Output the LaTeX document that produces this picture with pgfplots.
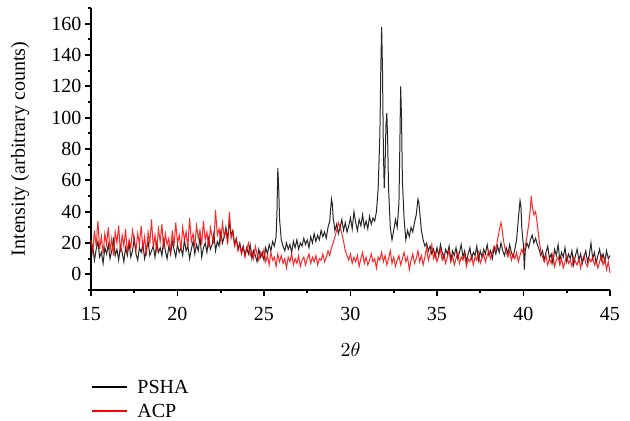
\documentclass[border=0pt]{standalone}
\usepackage{fontspec}
\setmainfont{Liberation Serif}
\usepackage{pgfplots}
\pgfplotsset{compat=1.18}

\begin{document}
\begin{tikzpicture}
\useasboundingbox (-50.05pt,-72.05pt) rectangle (296.45pt,159.5pt);
\begin{axis}[
    at={(0,0)}, anchor=south west,
    scale only axis,
    width=285.45pt, height=155.1pt,
    xmin=15, xmax=45,
    ymin=-10, ymax=170,
    axis x line*=bottom,
    axis y line*=left,
    axis line style={line width=1pt},
    tick style={line width=1pt, black},
    tick align=outside,
    major tick length=3.3pt,
    minor tick length=1.8pt,
    xtick={15,20,...,45},
    minor xtick={17.5,22.5,...,42.5},
    ytick={0,20,...,160},
    minor ytick={-10,10,...,170},
    /pgf/number format/assume math mode=true,
    tick label style={font=\fontsize{11}{13}\selectfont},
    xticklabel style={yshift=-2.5pt},
    yticklabel style={xshift=1.5pt},
    xlabel={$2\theta$},
    ylabel={Intensity (arbitrary counts)},
    label style={font=\fontsize{11}{13}\selectfont},
    xlabel style={at={(axis description cs:0.5,0)}, anchor=center, yshift=-33pt},
    ylabel style={at={(axis description cs:0,0.5)}, anchor=center, yshift=39pt},
    legend style={at={(axis description cs:0,-0.305)}, anchor=north west,
        draw=none, fill=none, inner sep=0pt, row sep=2.2pt,
        font=\fontsize{11}{13}\selectfont,
        nodes={text depth=0pt}},
    legend cell align=left,
    legend image code/.code={\draw[#1, line width=1.1pt, opacity=1] (0pt,0pt) -- (19pt,0pt); \path (22.5pt,0pt);},
    clip=false,
]
\addplot[black, line width=0.55pt, opacity=0.85] coordinates {
(15.0,12) (15.1,18) (15.2,9) (15.3,16) (15.4,21) (15.5,11) (15.6,14) (15.7,7) (15.8,17) (15.9,13)
(16.0,19) (16.1,10) (16.2,15) (16.3,22) (16.4,12) (16.5,16) (16.6,9) (16.7,18) (16.8,14) (16.9,8)
(17.0,17) (17.1,12) (17.2,20) (17.3,11) (17.4,15) (17.5,23) (17.6,13) (17.7,9) (17.8,17) (17.9,14)
(18.0,19) (18.1,10) (18.2,16) (18.3,21) (18.4,12) (18.5,15) (18.6,18) (18.7,11) (18.8,20) (18.9,14)
(19.0,17) (19.1,12) (19.2,22) (19.3,15) (19.4,10) (19.5,18) (19.6,13) (19.7,21) (19.8,16) (19.9,11)
(20.0,19) (20.1,14) (20.2,17) (20.3,12) (20.4,22) (20.5,15) (20.6,18) (20.7,10) (20.8,16) (20.9,21)
(21.0,13) (21.1,19) (21.2,15) (21.3,24) (21.4,11) (21.5,17) (21.6,20) (21.7,14) (21.8,23) (21.9,16)
(22.0,19) (22.1,26) (22.2,15) (22.3,21) (22.4,18) (22.5,27) (22.6,20) (22.7,24) (22.8,30) (22.9,22)
(23.0,34) (23.1,25) (23.2,28) (23.3,19) (23.4,23) (23.5,16) (23.6,20) (23.7,14) (23.8,18) (23.9,12)
(24.0,17) (24.1,13) (24.2,19) (24.3,10) (24.4,15) (24.5,12) (24.6,8) (24.7,16) (24.8,11) (24.9,14)
(25.0,9) (25.1,17) (25.2,13) (25.3,19) (25.4,15) (25.5,21) (25.6,18) (25.7,24) (25.75,40) (25.8,68)
(25.85,55) (25.9,35) (26.0,22) (26.1,18) (26.2,15) (26.3,20) (26.4,16) (26.5,19) (26.6,14) (26.7,21)
(26.8,17) (26.9,22) (27.0,16) (27.1,20) (27.2,18) (27.3,23) (27.4,19) (27.5,22) (27.6,17) (27.7,24)
(27.8,20) (27.9,26) (28.0,21) (28.1,25) (28.2,22) (28.3,28) (28.4,24) (28.5,27) (28.6,23) (28.7,30)
(28.8,34) (28.9,48) (28.95,45) (29.0,36) (29.1,28) (29.2,32) (29.3,26) (29.4,30) (29.5,35) (29.6,28)
(29.7,33) (29.8,27) (29.9,31) (30.0,36) (30.1,29) (30.2,40) (30.3,33) (30.4,28) (30.5,35) (30.6,31)
(30.7,38) (30.8,30) (30.9,34) (31.0,29) (31.1,37) (31.2,32) (31.3,36) (31.4,34) (31.5,40) (31.6,55)
(31.7,90) (31.75,130) (31.8,158) (31.85,130) (31.9,80) (31.95,55) (32.0,70) (32.05,95) (32.1,103) (32.15,85)
(32.2,55) (32.3,30) (32.4,22) (32.5,28) (32.6,35) (32.7,30) (32.8,45) (32.85,80) (32.9,120) (32.95,100)
(33.0,60) (33.1,35) (33.2,22) (33.3,28) (33.4,24) (33.5,30) (33.6,27) (33.7,33) (33.8,38) (33.9,48)
(33.95,46) (34.0,40) (34.1,28) (34.2,22) (34.3,18) (34.4,20) (34.5,15) (34.6,18) (34.7,13) (34.8,16) (34.9,11)
(35.0,17) (35.1,12) (35.2,19) (35.3,14) (35.4,10) (35.5,16) (35.6,13) (35.7,18) (35.8,9) (35.9,15)
(36.0,12) (36.1,17) (36.2,10) (36.3,14) (36.4,19) (36.5,11) (36.6,15) (36.7,8) (36.8,13) (36.9,17)
(37.0,10) (37.1,14) (37.2,12) (37.3,18) (37.4,9) (37.5,15) (37.6,11) (37.7,16) (37.8,13) (37.9,19)
(38.0,12) (38.1,15) (38.2,10) (38.3,17) (38.4,13) (38.5,18) (38.6,14) (38.7,20) (38.8,15) (38.9,12)
(39.0,17) (39.1,13) (39.2,19) (39.3,14) (39.4,11) (39.5,16) (39.6,22) (39.7,35) (39.8,47) (39.85,44)
(39.9,30) (40.0,18) (40.05,3) (40.1,15) (40.2,20) (40.3,17) (40.4,22) (40.5,25) (40.6,20) (40.7,23)
(40.8,19) (40.9,16) (41.0,12) (41.1,15) (41.2,9) (41.3,14) (41.4,18) (41.5,10) (41.6,13) (41.7,7)
(41.8,16) (41.9,12) (42.0,19) (42.1,9) (42.2,14) (42.3,11) (42.4,17) (42.5,8) (42.6,13) (42.7,10)
(42.8,15) (42.9,6) (43.0,12) (43.1,16) (43.2,9) (43.3,13) (43.4,7) (43.5,11) (43.6,15) (43.7,8)
(43.8,12) (43.9,20) (44.0,10) (44.1,14) (44.2,7) (44.3,12) (44.4,16) (44.5,9) (44.6,13) (44.7,8)
(44.8,15) (44.9,10) (45.0,12)
};
\addlegendentry{PSHA}
\addplot[red, line width=0.55pt, opacity=0.85] coordinates {
(15.0,22) (15.1,14) (15.2,28) (15.3,18) (15.4,34) (15.5,16) (15.6,24) (15.7,13) (15.8,26) (15.9,19)
(16.0,30) (16.1,15) (16.2,23) (16.3,12) (16.4,27) (16.5,20) (16.6,31) (16.7,14) (16.8,25) (16.9,18)
(17.0,29) (17.1,13) (17.2,22) (17.3,17) (17.4,28) (17.5,21) (17.6,15) (17.7,26) (17.8,19) (17.9,31)
(18.0,16) (18.1,24) (18.2,12) (18.3,27) (18.4,20) (18.5,35) (18.6,17) (18.7,25) (18.8,14) (18.9,29)
(19.0,21) (19.1,32) (19.2,16) (19.3,26) (19.4,19) (19.5,23) (19.6,14) (19.7,28) (19.8,18) (19.9,33)
(20.0,20) (20.1,25) (20.2,15) (20.3,30) (20.4,22) (20.5,27) (20.6,17) (20.7,36) (20.8,21) (20.9,26)
(21.0,18) (21.1,31) (21.2,23) (21.3,28) (21.4,19) (21.5,34) (21.6,22) (21.7,27) (21.8,17) (21.9,30)
(22.0,24) (22.1,20) (22.2,41) (22.3,25) (22.4,29) (22.5,21) (22.6,33) (22.7,24) (22.8,28) (22.9,19)
(23.0,40) (23.1,23) (23.2,27) (23.3,18) (23.4,22) (23.5,15) (23.6,19) (23.7,13) (23.8,17) (23.9,11)
(24.0,16) (24.1,20) (24.2,12) (24.3,15) (24.4,10) (24.5,18) (24.6,13) (24.7,9) (24.8,14) (24.9,11)
(25.0,16) (25.1,8) (25.2,12) (25.3,6) (25.4,14) (25.5,9) (25.6,11) (25.7,5) (25.8,13) (25.9,8)
(26.0,12) (26.1,7) (26.2,10) (26.3,4) (26.4,11) (26.5,8) (26.6,13) (26.7,6) (26.8,10) (26.9,7)
(27.0,12) (27.1,5) (27.2,9) (27.3,11) (27.4,6) (27.5,10) (27.6,13) (27.7,7) (27.8,11) (27.9,8)
(28.0,12) (28.1,6) (28.2,10) (28.3,9) (28.4,13) (28.5,8) (28.6,11) (28.7,15) (28.8,12) (28.9,17)
(29.0,20) (29.1,24) (29.2,28) (29.3,33) (29.4,30) (29.5,26) (29.6,21) (29.7,15) (29.8,12) (29.9,9)
(30.0,13) (30.1,7) (30.2,11) (30.3,8) (30.4,12) (30.5,5) (30.6,10) (30.7,14) (30.8,7) (30.9,11)
(31.0,6) (31.1,9) (31.2,13) (31.3,8) (31.4,10) (31.5,4) (31.6,11) (31.7,9) (31.8,14) (31.9,8)
(32.0,12) (32.1,6) (32.2,10) (32.3,15) (32.4,7) (32.5,11) (32.6,5) (32.7,9) (32.8,12) (32.9,6)
(33.0,10) (33.1,14) (33.2,8) (33.3,11) (33.4,3) (33.5,9) (33.6,13) (33.7,7) (33.8,10) (33.9,15)
(34.0,8) (34.1,12) (34.2,6) (34.3,11) (34.4,17) (34.5,9) (34.6,13) (34.7,19) (34.8,10) (34.9,14)
(35.0,8) (35.1,12) (35.2,16) (35.3,9) (35.4,13) (35.5,7) (35.6,11) (35.7,15) (35.8,8) (35.9,12)
(36.0,6) (36.1,10) (36.2,14) (36.3,7) (36.4,11) (36.5,9) (36.6,13) (36.7,5) (36.8,10) (36.9,8)
(37.0,12) (37.1,6) (37.2,11) (37.3,9) (37.4,14) (37.5,7) (37.6,10) (37.7,13) (37.8,8) (37.9,12)
(38.0,15) (38.1,10) (38.2,14) (38.3,18) (38.4,16) (38.5,22) (38.6,28) (38.7,33) (38.75,30) (38.8,25)
(38.9,18) (39.0,14) (39.1,11) (39.2,15) (39.3,9) (39.4,13) (39.5,10) (39.6,14) (39.7,8) (39.8,12)
(39.9,16) (40.0,13) (40.1,18) (40.2,24) (40.3,32) (40.4,42) (40.45,50) (40.5,44) (40.6,38) (40.7,40)
(40.8,32) (40.9,22) (41.0,15) (41.1,11) (41.2,8) (41.3,12) (41.4,6) (41.5,10) (41.6,7) (41.7,13)
(41.8,5) (41.9,9) (42.0,11) (42.1,6) (42.2,10) (42.3,4) (42.4,8) (42.5,12) (42.6,7) (42.7,9)
(42.8,5) (42.9,11) (43.0,8) (43.1,6) (43.2,10) (43.3,4) (43.4,9) (43.5,12) (43.6,7) (43.7,5)
(43.8,10) (43.9,8) (44.0,11) (44.1,6) (44.2,9) (44.3,4) (44.4,8) (44.5,12) (44.6,6) (44.7,10)
(44.8,3) (44.9,8) (45.0,1)
};
\addlegendentry{ACP}
\end{axis}
\end{tikzpicture}
\end{document}
